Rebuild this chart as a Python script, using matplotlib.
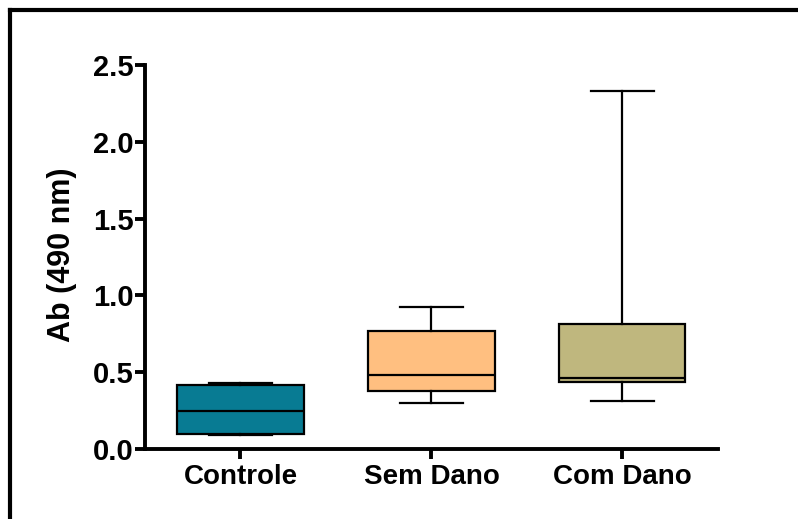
import matplotlib
matplotlib.use("Agg")
import matplotlib.pyplot as plt
from matplotlib.lines import Line2D

# grupos e resumo dos boxplots (min, Q1, mediana, Q3, max)
grupos = ['Controle', 'Sem Dano', 'Com Dano']
minimos = [0.09, 0.30, 0.31]
q1 = [0.10, 0.38, 0.435]
medianas = [0.245, 0.48, 0.46]
q3 = [0.415, 0.77, 0.815]
maximos = [0.43, 0.925, 2.33]
cores = ['#087B93', '#FFBF80', '#BFB77E']
yticks = [0.0, 0.5, 1.0, 1.5, 2.0, 2.5]

plt.rcParams['font.family'] = ['Liberation Sans', 'DejaVu Sans']
plt.rcParams['font.weight'] = 'bold'

fig = plt.figure(figsize=(7.98, 5.19), dpi=100)
ax = fig.add_axes([0.1817, 0.1349, 0.718, 0.740])

stats = []
for i in range(len(grupos)):
    stats.append({'label': grupos[i], 'whislo': minimos[i], 'q1': q1[i], 'med': medianas[i],
                  'q3': q3[i], 'whishi': maximos[i]})

bp = ax.bxp(stats, positions=range(len(grupos)), widths=0.66, capwidths=0.33,
            showfliers=False, patch_artist=True,
            boxprops=dict(linewidth=1.6, edgecolor='black'),
            medianprops=dict(color='black', linewidth=1.6),
            whiskerprops=dict(color='black', linewidth=1.6),
            capprops=dict(color='black', linewidth=1.6))
for caixa, cor in zip(bp['boxes'], cores):
    caixa.set_facecolor(cor)

## eixos
ax.set_xlim(-0.5, 2.5)
ax.set_ylim(0, 2.5)
ax.set_yticks(yticks)
ax.set_yticklabels(['%.1f' % v for v in yticks])
ax.set_xticks(range(len(grupos)))
ax.set_xticklabels(grupos)
ax.spines['top'].set_visible(False)
ax.spines['right'].set_visible(False)
ax.spines['left'].set_linewidth(2.8)
ax.spines['bottom'].set_linewidth(2.8)
ax.tick_params(axis='both', width=2.8, length=7, labelsize=20)
ax.tick_params(axis='y', pad=1, labelsize=21)
ax.tick_params(axis='x', pad=4)

## titulo do eixo y
fig.text(62 / 798, 1 - 255 / 519, 'Ab (490 nm)', rotation=90, ha='center', va='center',
         fontsize=22, fontweight='bold')

## moldura
fig.add_artist(Line2D([10 / 798, 1.0], [1 - 10 / 519, 1 - 10 / 519], color='black', linewidth=3,
                      transform=fig.transFigure))
fig.add_artist(Line2D([10 / 798, 10 / 798], [0.0, 1 - 10 / 519], color='black', linewidth=3,
                      transform=fig.transFigure))

fig.savefig('out.png', dpi=100)
